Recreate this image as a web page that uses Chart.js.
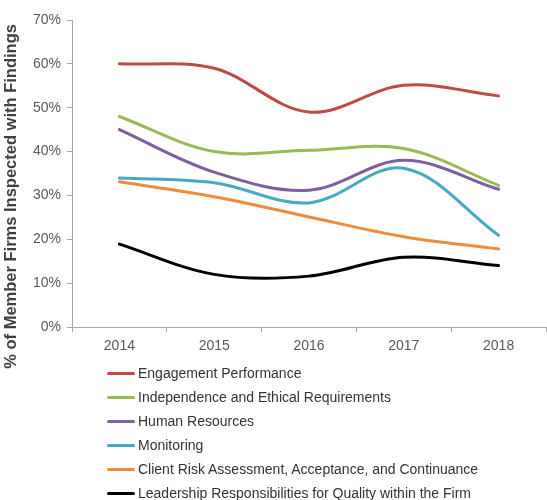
<!DOCTYPE html>
<html>
<head>
<meta charset="utf-8">
<script src="https://cdn.jsdelivr.net/npm/chart.js@4"></script>
<style>
body { margin: 0; background: #fff; font-family: "Liberation Sans", Arial, sans-serif; }
#wrap { position: relative; width: 547px; height: 380px; }
#legend { position: absolute; left: 107px; top: 361px; }
.item { height: 24px; line-height: 24px; font-size: 14px; color: #333; white-space: nowrap; }
.item span { display: inline-block; width: 28px; height: 3px; border-radius: 2px; vertical-align: middle; margin-right: 3px; position: relative; top: -1px; }
</style>
</head>
<body>
<div id="wrap"><canvas id="chart"></canvas></div>
<div id="legend"></div>
<script>
/**
 *  Data
 */
var years = ["2014", "2015", "2016", "2017", "2018"];
var seriesNames = [
    "Engagement Performance",
    "Independence and Ethical Requirements",
    "Human Resources",
    "Monitoring",
    "Client Risk Assessment, Acceptance, and Continuance",
    "Leadership Responsibilities for Quality within the Firm"
];
var engagement = [60, 59, 49, 55.1, 52.7];
var independence = [48, 40, 40.3, 40.7, 32.3];
var humanResources = [45, 35.3, 31.2, 38, 31.4];
var monitoring = [34, 32.9, 28.3, 36.2, 20.9];
var clientRisk = [33.1, 29.7, 25.1, 20.6, 17.8];
var leadership = [18.9, 12, 11.6, 15.9, 14];
var yTicks = [0, 10, 20, 30, 40, 50, 60, 70];

var colors = ["#BE4B48", "#98B954", "#7D60A0", "#46AAC5", "#F08A3C", "#000000"];
var values = [engagement, independence, humanResources, monitoring, clientRisk, leadership];

var datasets = values.map(function (v, i) {
    return {
        label: seriesNames[i],
        data: v,
        borderColor: colors[i],
        backgroundColor: colors[i],
        borderWidth: 3,
        borderCapStyle: "round",
        pointRadius: 0,
        tension: 0.35,
        fill: false
    };
});

var axisGray = "#A6A6A6";

new Chart(document.getElementById("chart"), {
    type: "line",
    data: { labels: years, datasets: datasets },
    options: {
        responsive: true,
        maintainAspectRatio: false,
        animation: false,
        layout: { padding: { top: 20, right: 1, left: 0, bottom: 0 } },
        plugins: {
            legend: { display: false },
            tooltip: { enabled: false }
        },
        scales: {
            x: {
                offset: true,
                grid: { offset: true, drawOnChartArea: false, drawTicks: true, tickLength: 5, color: axisGray },
                border: { color: axisGray },
                ticks: { color: "#595959", padding: 6, font: { family: "Liberation Sans", size: 14 } },
                // canvas goes lower than the labels so the long y title is not cut
                afterFit: function (scale) { scale.height = 53; }
            },
            y: {
                min: 0,
                max: 70,
                afterBuildTicks: function (scale) {
                    scale.ticks = yTicks.map(function (v) { return { value: v }; });
                },
                grid: { drawOnChartArea: false, drawTicks: true, tickLength: 5, color: axisGray },
                border: { color: axisGray },
                ticks: {
                    color: "#595959",
                    padding: 6,
                    font: { family: "Liberation Sans", size: 14 },
                    callback: function (v) { return v + "%"; }
                },
                title: {
                    display: true,
                    // trailing spaces push the text down a bit, like the original
                    text: "% of Member Firms Inspected with Findings          ",
                    color: "#404040",
                    padding: { top: 2, bottom: 0 },
                    font: { family: "Liberation Sans", size: 16.5, weight: "bold" }
                },
                afterFit: function (scale) { scale.width = 72; }
            }
        }
    }
});

// legend in HTML, one row per series
var legend = document.getElementById("legend");
seriesNames.forEach(function (name, i) {
    var div = document.createElement("div");
    div.className = "item";
    var swatch = document.createElement("span");
    swatch.style.background = colors[i];
    div.appendChild(swatch);
    div.appendChild(document.createTextNode(name));
    legend.appendChild(div);
});
</script>
</body>
</html>
